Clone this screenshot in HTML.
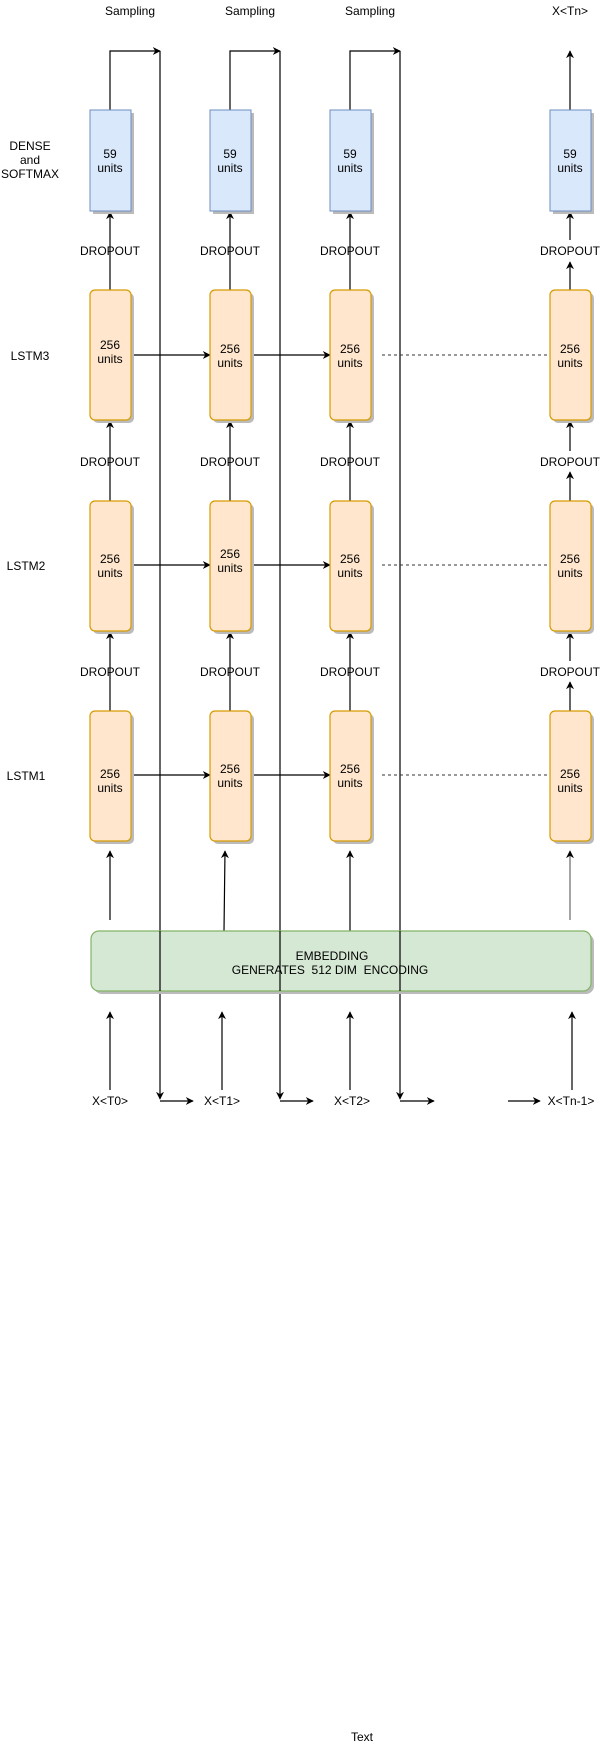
<!DOCTYPE html>
<html><head><meta charset="utf-8"><style>
html,body{margin:0;padding:0;background:#fff;}
svg{display:block;}
text{font-family:"Liberation Sans",Arial,sans-serif;font-size:12px;fill:#000;}
</style></head><body>
<svg width="604" height="1748" viewBox="0 0 604 1748" xmlns="http://www.w3.org/2000/svg">
<defs>
<marker id="a" viewBox="0 0 10 10" refX="9" refY="5" markerWidth="8" markerHeight="8" orient="auto-start-reverse" markerUnits="userSpaceOnUse">
<path d="M0,0 L10,5 L0,10 L3,5 Z" fill="#000"/>
</marker>
</defs>
<g text-anchor="middle">
<!-- top labels -->
<text x="130" y="15">Sampling</text>
<text x="250" y="15">Sampling</text>
<text x="370" y="15">Sampling</text>
<text x="570" y="15">X&lt;Tn&gt;</text>
<!-- left labels -->
<text x="30" y="150">DENSE</text>
<text x="30" y="164">and</text>
<text x="30" y="178">SOFTMAX</text>
<text x="30" y="360">LSTM3</text>
<text x="26" y="570">LSTM2</text>
<text x="26" y="780">LSTM1</text>
</g>

<!-- sampling connectors -->
<g stroke="#000" stroke-width="1.2" fill="none">
<path d="M110 110 V51 H160" marker-end="url(#a)"/>
<path d="M230 110 V51 H280" marker-end="url(#a)"/>
<path d="M350 110 V51 H400" marker-end="url(#a)"/>
<path d="M570 110 V51" marker-end="url(#a)"/>
<path d="M160 51 V1099" marker-end="url(#a)"/>
<path d="M280 51 V1099" marker-end="url(#a)"/>
<path d="M400 51 V1099" marker-end="url(#a)"/>
<path d="M160 1101 H193" marker-end="url(#a)"/>
<path d="M280 1101 H313" marker-end="url(#a)"/>
<path d="M400 1101 H434" marker-end="url(#a)"/>
<path d="M508 1101 H540" marker-end="url(#a)"/>
<!-- vertical column arrows cols 1-3 -->
<path d="M110 290 V212" marker-end="url(#a)"/>
<path d="M230 290 V212" marker-end="url(#a)"/>
<path d="M350 290 V212" marker-end="url(#a)"/>
<path d="M110 501 V421" marker-end="url(#a)"/>
<path d="M230 501 V421" marker-end="url(#a)"/>
<path d="M350 501 V421" marker-end="url(#a)"/>
<path d="M110 711 V632" marker-end="url(#a)"/>
<path d="M230 711 V632" marker-end="url(#a)"/>
<path d="M350 711 V632" marker-end="url(#a)"/>
<!-- col 4 with gaps -->
<path d="M570 240 V212" marker-end="url(#a)"/>
<path d="M570 290 V262" marker-end="url(#a)"/>
<path d="M570 451 V421" marker-end="url(#a)"/>
<path d="M570 501 V472" marker-end="url(#a)"/>
<path d="M570 661 V632" marker-end="url(#a)"/>
<path d="M570 711 V682" marker-end="url(#a)"/>
<!-- embedding to lstm1 -->
<path d="M110 920 V851" marker-end="url(#a)"/>
<path d="M224 931 L225 851" marker-end="url(#a)"/>
<path d="M350 931 V851" marker-end="url(#a)"/>
<path d="M570 920 V851" stroke="#666" marker-end="url(#a)"/>
<!-- inputs to embedding -->
<path d="M110 1090 V1012" marker-end="url(#a)"/>
<path d="M222 1090 V1012" marker-end="url(#a)"/>
<path d="M350 1090 V1012" marker-end="url(#a)"/>
<path d="M572 1090 V1012" marker-end="url(#a)"/>
<!-- horizontal recurrent arrows -->
<path d="M131 355 H210" marker-end="url(#a)"/>
<path d="M251 355 H330" marker-end="url(#a)"/>
<path d="M131 565 H210" marker-end="url(#a)"/>
<path d="M251 565 H330" marker-end="url(#a)"/>
<path d="M131 775 H210" marker-end="url(#a)"/>
<path d="M251 775 H330" marker-end="url(#a)"/>
</g>
<g stroke="#333" stroke-width="1" stroke-dasharray="3,3">
<line x1="382" y1="355" x2="550" y2="355"/>
<line x1="382" y1="565" x2="550" y2="565"/>
<line x1="382" y1="775" x2="550" y2="775"/>
</g>

<!-- dense boxes -->
<g>
<rect x="93" y="113" width="41" height="101" fill="#bbb"/>
<rect x="213" y="113" width="41" height="101" fill="#bbb"/>
<rect x="333" y="113" width="41" height="101" fill="#bbb"/>
<rect x="553" y="113" width="41" height="101" fill="#bbb"/>
<rect x="90" y="110" width="41" height="101" fill="#dae8fc" stroke="#6c8ebf"/>
<rect x="210" y="110" width="41" height="101" fill="#dae8fc" stroke="#6c8ebf"/>
<rect x="330" y="110" width="41" height="101" fill="#dae8fc" stroke="#6c8ebf"/>
<rect x="550" y="110" width="41" height="101" fill="#dae8fc" stroke="#6c8ebf"/>
</g>
<g text-anchor="middle">
<text x="110" y="158">59</text><text x="110" y="172">units</text>
<text x="230" y="158">59</text><text x="230" y="172">units</text>
<text x="350" y="158">59</text><text x="350" y="172">units</text>
<text x="570" y="158">59</text><text x="570" y="172">units</text>
</g>

<!-- LSTM boxes -->
<g id="rows">
<g fill="#bbb">
<rect x="93" y="293" width="41" height="130" rx="5"/><rect x="213" y="293" width="41" height="130" rx="5"/><rect x="333" y="293" width="41" height="130" rx="5"/><rect x="553" y="293" width="41" height="130" rx="5"/>
<rect x="93" y="504" width="41" height="130" rx="5"/><rect x="213" y="504" width="41" height="130" rx="5"/><rect x="333" y="504" width="41" height="130" rx="5"/><rect x="553" y="504" width="41" height="130" rx="5"/>
<rect x="93" y="714" width="41" height="130" rx="5"/><rect x="213" y="714" width="41" height="130" rx="5"/><rect x="333" y="714" width="41" height="130" rx="5"/><rect x="553" y="714" width="41" height="130" rx="5"/>
</g>
<g fill="#ffe6cc" stroke="#d79b00" stroke-width="1.2">
<rect x="90" y="290" width="41" height="130" rx="5"/><rect x="210" y="290" width="41" height="130" rx="5"/><rect x="330" y="290" width="41" height="130" rx="5"/><rect x="550" y="290" width="41" height="130" rx="5"/>
<rect x="90" y="501" width="41" height="130" rx="5"/><rect x="210" y="501" width="41" height="130" rx="5"/><rect x="330" y="501" width="41" height="130" rx="5"/><rect x="550" y="501" width="41" height="130" rx="5"/>
<rect x="90" y="711" width="41" height="130" rx="5"/><rect x="210" y="711" width="41" height="130" rx="5"/><rect x="330" y="711" width="41" height="130" rx="5"/><rect x="550" y="711" width="41" height="130" rx="5"/>
</g>
</g>
<g text-anchor="middle">
<text x="110" y="349">256</text><text x="110" y="363">units</text>
<text x="230" y="353">256</text><text x="230" y="367">units</text>
<text x="350" y="353">256</text><text x="350" y="367">units</text>
<text x="570" y="353">256</text><text x="570" y="367">units</text>

<text x="110" y="563">256</text><text x="110" y="577">units</text>
<text x="230" y="558">256</text><text x="230" y="572">units</text>
<text x="350" y="563">256</text><text x="350" y="577">units</text>
<text x="570" y="563">256</text><text x="570" y="577">units</text>

<text x="110" y="778">256</text><text x="110" y="792">units</text>
<text x="230" y="773">256</text><text x="230" y="787">units</text>
<text x="350" y="773">256</text><text x="350" y="787">units</text>
<text x="570" y="778">256</text><text x="570" y="792">units</text>

<text x="110" y="255">DROPOUT</text><text x="230" y="255">DROPOUT</text><text x="350" y="255">DROPOUT</text><text x="570" y="255">DROPOUT</text>
<text x="110" y="466">DROPOUT</text><text x="230" y="466">DROPOUT</text><text x="350" y="466">DROPOUT</text><text x="570" y="466">DROPOUT</text>
<text x="110" y="676">DROPOUT</text><text x="230" y="676">DROPOUT</text><text x="350" y="676">DROPOUT</text><text x="570" y="676">DROPOUT</text>
</g>

<!-- embedding -->
<rect x="94" y="934" width="500" height="60" rx="8" fill="#bbb"/>
<rect x="91" y="931" width="500" height="60" rx="8" fill="#d5e8d4" stroke="#82b366" stroke-width="1.2"/>
<g stroke="#000" stroke-width="1.2">
<line x1="160" y1="931" x2="160" y2="991"/>
<line x1="280" y1="931" x2="280" y2="991"/>
<line x1="400" y1="931" x2="400" y2="991"/>
</g>
<g text-anchor="middle">
<text x="332" y="960">EMBEDDING</text>
<text x="330" y="974">GENERATES&#160; 512 DIM&#160; ENCODING</text>
<text x="110" y="1105">X&lt;T0&gt;</text>
<text x="222" y="1105">X&lt;T1&gt;</text>
<text x="352" y="1105">X&lt;T2&gt;</text>
<text x="571" y="1105">X&lt;Tn-1&gt;</text>
<text x="362" y="1741">Text</text>
</g>
</svg>
</body></html>
